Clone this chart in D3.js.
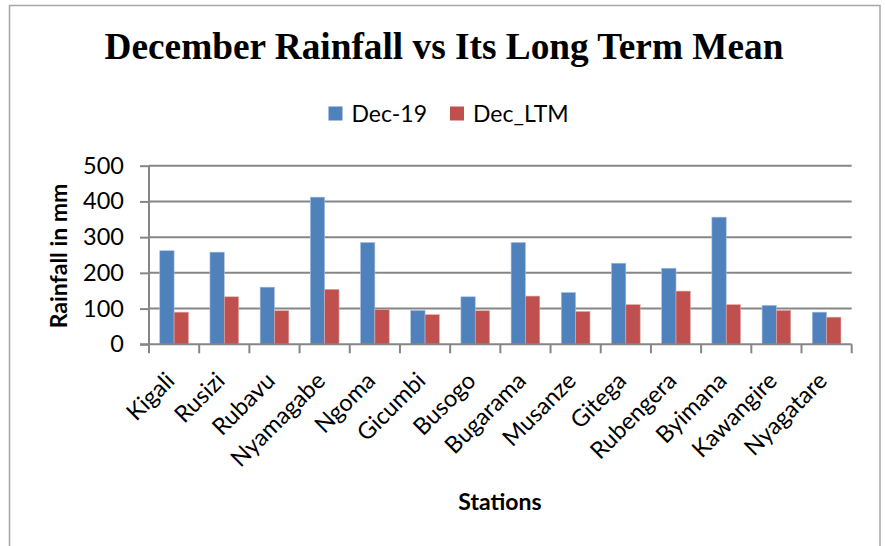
<!DOCTYPE html>
<html><head><meta charset="utf-8">
<script src="https://cdn.jsdelivr.net/npm/d3@7"></script>
<style>body{margin:0;background:#fff}</style>
</head><body>
<svg id="c" width="885" height="546"></svg>
<script>
const stations = ["Kigali","Rusizi","Rubavu","Nyamagabe","Ngoma","Gicumbi","Busogo","Bugarama","Musanze","Gitega","Rubengera","Byimana","Kawangire","Nyagatare"];
const dec19 = [262,258,160,412,285,95,133,285,145,227,213,356,109,90];
const decLTM = [90,133,94,154,97,83,94,135,92,111,149,111,95,76];
const seriesNames = ["Dec-19","Dec_LTM"];
const seriesColors = ["#4F81BD","#C0504D"];
const yTicks = [0,100,200,300,400,500];

const svg = d3.select("#c");
const font = "Lato, 'Open Sans', sans-serif";
const gray = "#868686";

// outer border
svg.append("rect").attr("x",9.5).attr("y",5.5).attr("width",870.5).attr("height",560)
  .attr("fill","none").attr("stroke","#a6a6a6").attr("stroke-width",1.5);

const L=149, R=851.7, T=165.7, B=344.3;
const x = d3.scaleBand().domain(stations).range([L,R]).padding(0);
const xs = d3.scaleBand().domain(seriesNames).range([0,x.bandwidth()]).paddingInner(0).paddingOuter(0.75);
const y = d3.scaleLinear().domain([0,500]).range([B,T]);

// gridlines
svg.append("g").selectAll("line").data(yTicks.filter(d=>d>0)).join("line")
  .attr("x1",L).attr("x2",R).attr("y1",d=>y(d)).attr("y2",d=>y(d))
  .attr("stroke",gray).attr("stroke-width",2);

// bars
const data = stations.map((s,i)=>({s, vals:[dec19[i],decLTM[i]]}));
const g = svg.append("g");
data.forEach(d=>{
  d.vals.forEach((v,j)=>{
    g.append("rect").attr("x",x(d.s)+xs(seriesNames[j])).attr("width",xs.bandwidth())
      .attr("y",y(v)).attr("height",y(0)-y(v)).attr("fill",seriesColors[j])
      .attr("stroke", j===0 ? "#a9c1e0" : "#e0a9a8").attr("stroke-width",0.6);
  });
});

// y axis
const yAxis = d3.axisLeft(y).tickValues(yTicks).tickSize(9).tickPadding(16);
const ya = svg.append("g").attr("transform",`translate(${L},0)`).call(yAxis);
ya.select(".domain").attr("stroke",gray).attr("stroke-width",2).attr("d",`M0,${T}V${B}`);
ya.selectAll(".tick line").attr("stroke",gray).attr("stroke-width",2);
ya.selectAll(".tick text").attr("font-family",font).attr("font-size",23.5).attr("fill","#000");

// x axis
const xa = svg.append("g").attr("transform",`translate(0,${B})`);
xa.append("line").attr("x1",L-9).attr("x2",R).attr("y1",0).attr("y2",0).attr("stroke",gray).attr("stroke-width",2);
const edges = stations.map(s=>x(s)).concat([R]);
xa.selectAll("line.t").data(edges).join("line").attr("class","t")
  .attr("x1",d=>d).attr("x2",d=>d).attr("y1",0).attr("y2",9).attr("stroke",gray).attr("stroke-width",2);
xa.selectAll("text").data(stations).join("text")
  .attr("transform",d=>`translate(${x(d)+x.bandwidth()/2+2},${38}) rotate(-45)`)
  .attr("text-anchor","end").attr("font-family",font).attr("font-size",23.5).attr("fill","#000")
  .text(d=>d);

// title
svg.append("text").attr("x",444).attr("y",59).attr("text-anchor","middle")
  .attr("font-family","'Liberation Serif','Times New Roman',serif").attr("font-weight","bold")
  .attr("font-size",37.3).attr("fill","#000").text("December Rainfall vs Its Long Term Mean");

// legend
const leg = svg.append("g");
const legX = [328.5, 450];
seriesNames.forEach((n,i)=>{
  leg.append("rect").attr("x",legX[i]).attr("y",106.5).attr("width",14).attr("height",14).attr("fill",seriesColors[i]);
  leg.append("text").attr("x",legX[i]+23).attr("y",121.5).attr("font-family",font).attr("font-size",23)
    .attr("fill","#000").text(n);
});

// axis titles
svg.append("text").attr("x",500).attr("y",510).attr("text-anchor","middle")
  .attr("font-family",font).attr("font-weight","bold").attr("font-size",23).attr("fill","#000").text("Stations");
svg.append("text").attr("transform","translate(67,256) rotate(-90)").attr("text-anchor","middle")
  .attr("font-family",font).attr("font-weight","bold").attr("font-size",23).attr("fill","#000").text("Rainfall in mm");
</script>
</body></html>
